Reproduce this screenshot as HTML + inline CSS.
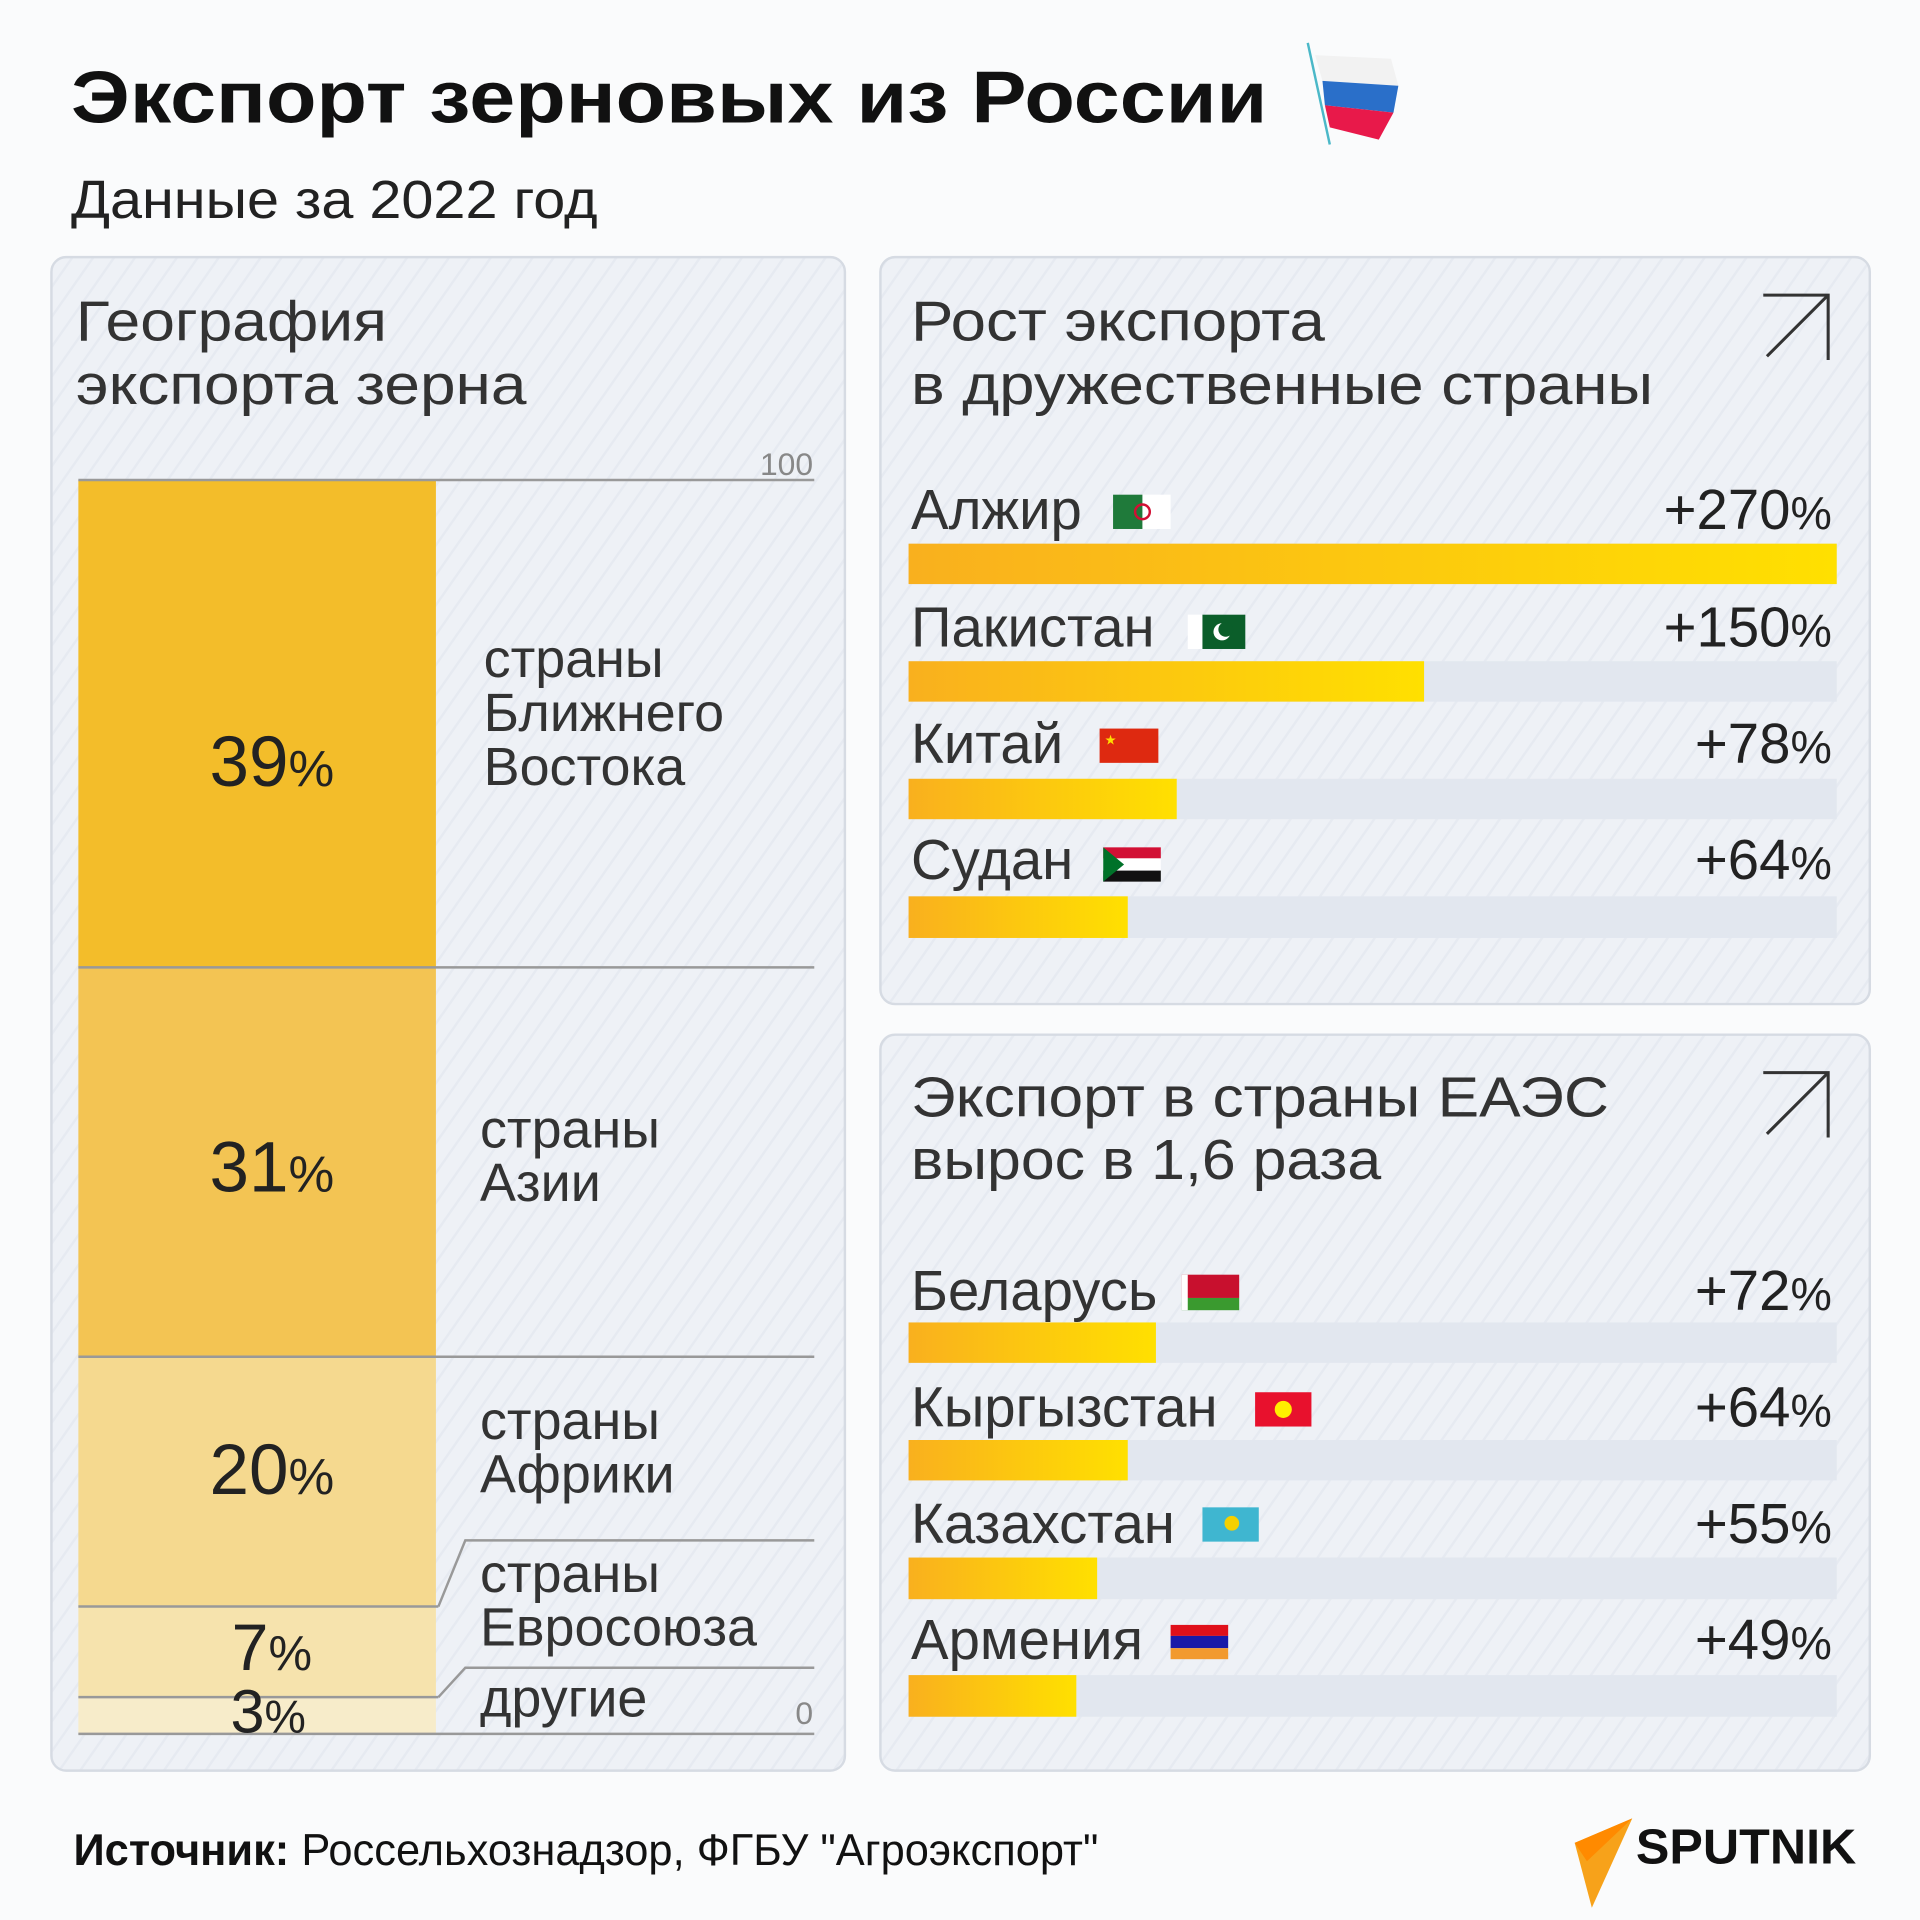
<!DOCTYPE html>
<html><head><meta charset="utf-8"><style>
html,body{margin:0;padding:0;background:#fafbfc;}
svg{display:block}
text{font-family:"Liberation Sans",sans-serif;}
</style></head><body>
<svg width="1920" height="1920" viewBox="0 0 1568 1568" xmlns="http://www.w3.org/2000/svg">
<defs>
<linearGradient id="g" x1="0" x2="1" y1="0" y2="0"><stop offset="0" stop-color="#f9b01e"/><stop offset="1" stop-color="#ffe000"/></linearGradient>
<pattern id="h" width="14" height="14" patternUnits="userSpaceOnUse" patternTransform="rotate(35)"><rect width="14" height="14" fill="#eef1f6"/><rect width="2" height="14" fill="#e6eaf1"/></pattern>
</defs>
<rect width="1568" height="1568" fill="#fafbfc"/>
<text x="58" y="100" font-size="60" font-weight="bold" fill="#111" textLength="977" lengthAdjust="spacingAndGlyphs">Экспорт зерновых из России</text>
<!-- flag -->
<line x1="1068" y1="35" x2="1086" y2="118" stroke="#4bb8c8" stroke-width="2"/>
<path d="M1074 45 L1136 48 L1142 70 L1080 66 Z" fill="#f2f2f2"/>
<path d="M1080 66 L1142 70 L1138 92 L1082 86 Z" fill="#2a6fc9"/>
<path d="M1082 86 L1138 92 L1126 114 L1086 104 Z" fill="#e8194a"/>
<text x="58" y="178" font-size="44" fill="#222" textLength="430" lengthAdjust="spacingAndGlyphs">Данные за 2022 год</text>

<!-- left panel -->
<rect x="42" y="210" width="648" height="1236" rx="12" fill="url(#h)" stroke="#d6dbe3" stroke-width="2"/>
<text x="62" y="278" font-size="46" fill="#333" textLength="254" lengthAdjust="spacingAndGlyphs">География</text>
<text x="62" y="330" font-size="46" fill="#333" textLength="368" lengthAdjust="spacingAndGlyphs">экспорта зерна</text>
<text x="664" y="388" font-size="26" fill="#888" text-anchor="end">100</text>
<rect x="64" y="392" width="292" height="398" fill="#f3bd2a"/>
<rect x="64" y="790" width="292" height="318" fill="#f3c453"/>
<rect x="64" y="1108" width="292" height="204" fill="#f5d98f"/>
<rect x="64" y="1312" width="292" height="74" fill="#f6e3ad"/>
<rect x="64" y="1386" width="292" height="30" fill="#f7ecca"/>
<g stroke="#999" stroke-width="2" fill="none">
<line x1="64" y1="392" x2="665" y2="392"/>
<line x1="64" y1="790" x2="665" y2="790"/>
<line x1="64" y1="1108" x2="665" y2="1108"/>
<line x1="64" y1="1312" x2="358" y2="1312"/>
<polyline points="358,1312 380,1258 665,1258"/>
<line x1="64" y1="1386" x2="358" y2="1386"/>
<polyline points="358,1386 380,1362 665,1362"/>
<line x1="64" y1="1416" x2="665" y2="1416"/>
</g>
<g fill="#222" text-anchor="middle">
<text x="222" y="642" font-size="58">39<tspan font-size="42">%</tspan></text>
<text x="222" y="973" font-size="58">31<tspan font-size="42">%</tspan></text>
<text x="222" y="1220" font-size="58">20<tspan font-size="42">%</tspan></text>
<text x="222" y="1364" font-size="54">7<tspan font-size="40">%</tspan></text>
<text x="219" y="1415" font-size="50">3<tspan font-size="38">%</tspan></text>
</g>
<g fill="#333" font-size="44">
<text x="395" y="553">страны</text><text x="395" y="597">Ближнего</text><text x="395" y="641">Востока</text>
<text x="392" y="937">страны</text><text x="392" y="981">Азии</text>
<text x="392" y="1175">страны</text><text x="392" y="1219">Африки</text>
<text x="392" y="1300">страны</text><text x="392" y="1344">Евросоюза</text>
<text x="392" y="1402">другие</text>
</g>
<text x="664" y="1408" font-size="26" fill="#888" text-anchor="end">0</text>

<!-- right top -->
<rect x="719" y="210" width="808" height="610" rx="12" fill="url(#h)" stroke="#d6dbe3" stroke-width="2"/>
<text x="744" y="278" font-size="46" fill="#333" textLength="338" lengthAdjust="spacingAndGlyphs">Рост экспорта</text>
<text x="744" y="330" font-size="46" fill="#333" textLength="606" lengthAdjust="spacingAndGlyphs">в дружественные страны</text>
<g stroke="#333" stroke-width="2.5" fill="none"><polyline points="1440,241 1493,241 1493,294"/><line x1="1493" y1="241" x2="1443" y2="291"/></g>
<g stroke="#333" stroke-width="2.5" fill="none"><polyline points="1440,876 1493,876 1493,929"/><line x1="1493" y1="876" x2="1443" y2="926"/></g>

<g font-size="46" fill="#333">
<text x="744" y="432">Алжир</text><text x="744" y="528">Пакистан</text><text x="744" y="623">Китай</text><text x="744" y="718">Судан</text>
<text x="744" y="1070">Беларусь</text><text x="744" y="1165">Кыргызстан</text><text x="744" y="1260">Казахстан</text><text x="744" y="1355">Армения</text>
</g>
<g font-size="46" fill="#222" text-anchor="end">
<text x="1496" y="432">+270<tspan font-size="38">%</tspan></text>
<text x="1496" y="528">+150<tspan font-size="38">%</tspan></text>
<text x="1496" y="623">+78<tspan font-size="38">%</tspan></text>
<text x="1496" y="718">+64<tspan font-size="38">%</tspan></text>
<text x="1496" y="1070">+72<tspan font-size="38">%</tspan></text>
<text x="1496" y="1165">+64<tspan font-size="38">%</tspan></text>
<text x="1496" y="1260">+55<tspan font-size="38">%</tspan></text>
<text x="1496" y="1355">+49<tspan font-size="38">%</tspan></text>
</g>
<g fill="#e2e7ef">
<rect x="742" y="444" width="758" height="33"/><rect x="742" y="540" width="758" height="33"/><rect x="742" y="636" width="758" height="33"/><rect x="742" y="732" width="758" height="34"/>
<rect x="742" y="1080" width="758" height="33"/><rect x="742" y="1176" width="758" height="33"/><rect x="742" y="1272" width="758" height="34"/><rect x="742" y="1368" width="758" height="34"/>
</g>
<rect x="742" y="444" width="758" height="33" fill="url(#g)"/>
<rect x="742" y="540" width="421" height="33" fill="url(#g)"/>
<rect x="742" y="636" width="219" height="33" fill="url(#g)"/>
<rect x="742" y="732" width="179" height="34" fill="url(#g)"/>

<!-- right bottom -->
<rect x="719" y="845" width="808" height="601" rx="12" fill="url(#h)" stroke="#d6dbe3" stroke-width="2" fill-opacity="1"/>
<text x="744" y="912" font-size="46" fill="#333" textLength="570" lengthAdjust="spacingAndGlyphs">Экспорт в страны ЕАЭС</text>
<text x="744" y="963" font-size="46" fill="#333" textLength="384" lengthAdjust="spacingAndGlyphs">вырос в 1,6 раза</text>
<g stroke="#333" stroke-width="2.5" fill="none"><polyline points="1440,876 1493,876 1493,929"/><line x1="1493" y1="876" x2="1443" y2="926"/></g>
<g font-size="46" fill="#333">
<text x="744" y="1070">Беларусь</text><text x="744" y="1165">Кыргызстан</text><text x="744" y="1260">Казахстан</text><text x="744" y="1355">Армения</text>
</g>
<g font-size="46" fill="#222" text-anchor="end">
<text x="1496" y="1070">+72<tspan font-size="38">%</tspan></text>
<text x="1496" y="1165">+64<tspan font-size="38">%</tspan></text>
<text x="1496" y="1260">+55<tspan font-size="38">%</tspan></text>
<text x="1496" y="1355">+49<tspan font-size="38">%</tspan></text>
</g>
<g fill="#e2e7ef">
<rect x="742" y="1080" width="758" height="33"/><rect x="742" y="1176" width="758" height="33"/><rect x="742" y="1272" width="758" height="34"/><rect x="742" y="1368" width="758" height="34"/>
</g>
<rect x="742" y="1080" width="202" height="33" fill="url(#g)"/>
<rect x="742" y="1176" width="179" height="33" fill="url(#g)"/>
<rect x="742" y="1272" width="154" height="34" fill="url(#g)"/>
<rect x="742" y="1368" width="137" height="34" fill="url(#g)"/>

<!-- flags -->
<rect x="909" y="404" width="24" height="28" fill="#1f7a3a"/><rect x="933" y="404" width="23" height="28" fill="#fff"/><circle cx="933" cy="418" r="6" fill="none" stroke="#d21034" stroke-width="2"/>
<rect x="970" y="502" width="12" height="28" fill="#fff"/><rect x="982" y="502" width="35" height="28" fill="#0b5e2a"/><circle cx="998" cy="516" r="7" fill="#fff"/><circle cx="1001" cy="514" r="6" fill="#0b5e2a"/>
<rect x="898" y="595" width="48" height="28" fill="#de2910"/><text x="902" y="608" font-size="11" fill="#ffde00">★</text>
<rect x="901" y="692" width="47" height="9" fill="#d21034"/><rect x="901" y="701" width="47" height="10" fill="#fff"/><rect x="901" y="711" width="47" height="9" fill="#111"/><path d="M901 692 L918 706 L901 720Z" fill="#007229"/>
<rect x="965" y="1041" width="47" height="19" fill="#c8102e"/><rect x="965" y="1060" width="47" height="10" fill="#3a9a2f"/><rect x="965" y="1041" width="5" height="29" fill="#fff"/>
<rect x="1025" y="1137" width="46" height="28" fill="#e8112d"/><circle cx="1048" cy="1151" r="7" fill="#ffef00"/>
<rect x="982" y="1231" width="46" height="28" fill="#3fb6d0"/><circle cx="1006" cy="1244" r="6" fill="#f5d000"/>
<rect x="956" y="1327" width="47" height="9" fill="#e0101a"/><rect x="956" y="1336" width="47" height="10" fill="#1a1aa8"/><rect x="956" y="1346" width="47" height="9" fill="#f29a2e"/>

<!-- footer -->
<text x="60" y="1523" font-size="36" fill="#111" textLength="837" lengthAdjust="spacingAndGlyphs"><tspan font-weight="bold">Источник:</tspan> Россельхознадзор, ФГБУ "Агроэкспорт"</text>
<path d="M1333 1485 L1300 1558 L1286 1505 Z" fill="#f7a21a"/>
<path d="M1333 1485 L1286 1505 L1296 1520 Z" fill="#ff8a00"/>
<text x="1336" y="1522" font-size="40" font-weight="bold" fill="#111" textLength="180" lengthAdjust="spacingAndGlyphs">SPUTNIK</text>
</svg>
</body></html>
